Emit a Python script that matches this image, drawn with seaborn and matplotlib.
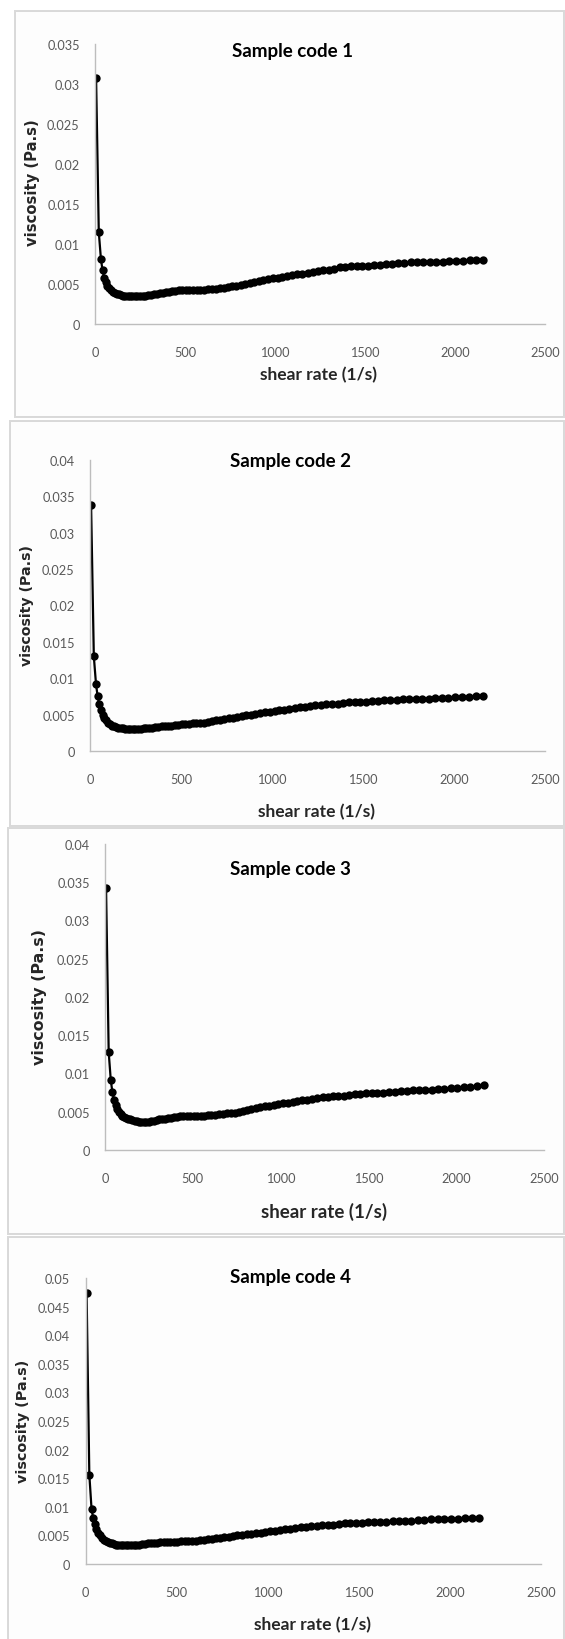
"""
Viscosity vs shear rate curves for four samples, stacked in one tall figure.
"""

import numpy as np
import matplotlib
matplotlib.use("Agg")
import matplotlib.pyplot as plt
from matplotlib.patches import Rectangle
from matplotlib.ticker import MultipleLocator, FuncFormatter
import seaborn as sns

# Shear rate (1/s), shared by all samples
shear_rate = [
    6, 21, 33, 42, 51, 60, 69, 79, 89, 99,
    110, 121, 132, 144, 156, 168, 181, 194, 207, 221,
    235, 249, 264, 279, 294, 310, 326, 342, 359, 376,
    393, 411, 429, 447, 466, 485, 504, 524, 544, 564,
    585, 606, 627, 649, 671, 693, 716, 739, 762, 786,
    810, 834, 859, 884, 909, 935, 961, 987, 1014, 1041,
    1068, 1096, 1124, 1152, 1181, 1210, 1239, 1269, 1299, 1329,
    1360, 1391, 1422, 1454, 1486, 1518, 1551, 1584, 1617, 1651,
    1685, 1719, 1754, 1789, 1824, 1860, 1896, 1932, 1969, 2006,
    2043, 2081, 2119, 2158,
]

# Viscosity (Pa.s) per sample
visc_1 = [
    0.0308, 0.0115, 0.0081, 0.0067, 0.0058, 0.0052, 0.0048, 0.0045, 0.0042, 0.0040,
    0.0039, 0.0038, 0.0037, 0.0036, 0.00355, 0.0035, 0.0035, 0.0035, 0.0035, 0.0035,
    0.0035, 0.0035, 0.0035, 0.0035, 0.0036, 0.00365, 0.0037, 0.0038, 0.0039, 0.0039,
    0.0040, 0.0040, 0.0041, 0.0041, 0.0042, 0.0042, 0.0042, 0.0042, 0.0043, 0.0043,
    0.0043, 0.0043, 0.0044, 0.0044, 0.0044, 0.0045, 0.0045, 0.0046, 0.0047, 0.0048,
    0.0049, 0.0050, 0.0051, 0.0053, 0.0054, 0.0055, 0.0056, 0.0057, 0.0058, 0.0059,
    0.0060, 0.0061, 0.0062, 0.0063, 0.0064, 0.0065, 0.0066, 0.0067, 0.0068, 0.0069,
    0.0071, 0.0071, 0.0072, 0.0072, 0.0073, 0.0073, 0.0074, 0.0074, 0.0075, 0.0075,
    0.0076, 0.0076, 0.0077, 0.0077, 0.0077, 0.0078, 0.0078, 0.0078, 0.0079, 0.0079,
    0.0079, 0.0080, 0.0080, 0.0080,
]
visc_2 = [
    0.0338, 0.0130, 0.0092, 0.0075, 0.0064, 0.0056, 0.0050, 0.0045, 0.0042, 0.0039,
    0.0037, 0.0035, 0.0034, 0.0033, 0.0032, 0.0031, 0.0031, 0.0030, 0.0030, 0.0030,
    0.0030, 0.0030, 0.0030, 0.0030, 0.0031, 0.0031, 0.0032, 0.0032, 0.0033, 0.0033,
    0.0034, 0.0034, 0.0035, 0.0035, 0.0036, 0.0036, 0.0037, 0.0037, 0.0037, 0.0038,
    0.0038, 0.0039, 0.0039, 0.0040, 0.0041, 0.0042, 0.0043, 0.0044, 0.0045, 0.0046,
    0.0047, 0.0048, 0.0049, 0.0050, 0.0051, 0.0052, 0.0053, 0.0054, 0.0055, 0.0056,
    0.0057, 0.0058, 0.0059, 0.0060, 0.0061, 0.0062, 0.0063, 0.0063, 0.0064, 0.0065,
    0.0065, 0.0066, 0.0067, 0.0067, 0.0068, 0.0068, 0.0069, 0.0069, 0.0070, 0.0070,
    0.0070, 0.0071, 0.0071, 0.0072, 0.0072, 0.0072, 0.0073, 0.0073, 0.0073, 0.0074,
    0.0074, 0.0074, 0.0075, 0.0075,
]
visc_3 = [
    0.0343, 0.0128, 0.0091, 0.0076, 0.0066, 0.0059, 0.0054, 0.0050, 0.0047, 0.0045,
    0.0043, 0.0042, 0.0041, 0.0040, 0.0039, 0.0038, 0.0038, 0.0037, 0.0037, 0.0037,
    0.0037, 0.0037, 0.0038, 0.0038, 0.0039, 0.0040, 0.0040, 0.0041, 0.0042, 0.0042,
    0.0043, 0.0043, 0.0044, 0.0044, 0.0044, 0.0045, 0.0045, 0.0045, 0.0045, 0.0045,
    0.0046, 0.0046, 0.0046, 0.0047, 0.0047, 0.0048, 0.0048, 0.0049, 0.0050, 0.0051,
    0.0052, 0.0053, 0.0055, 0.0056, 0.0057, 0.0058, 0.0059, 0.0060, 0.0061, 0.0062,
    0.0063, 0.0064, 0.0065, 0.0066, 0.0067, 0.0068, 0.0069, 0.0069, 0.0070, 0.0071,
    0.0071, 0.0072, 0.0073, 0.0073, 0.0074, 0.0074, 0.0075, 0.0075, 0.0076, 0.0076,
    0.0077, 0.0077, 0.0078, 0.0078, 0.0079, 0.0079, 0.0080, 0.0080, 0.0081, 0.0081,
    0.0082, 0.0083, 0.0084, 0.0085,
]
visc_4 = [
    0.0474, 0.0156, 0.0097, 0.0080, 0.0070, 0.0062, 0.0055, 0.0050, 0.0046, 0.0042,
    0.0040, 0.0038, 0.0037, 0.0036, 0.0035, 0.0034, 0.0034, 0.0033, 0.0033, 0.0033,
    0.0033, 0.0033, 0.0033, 0.0034, 0.0034, 0.0035, 0.0035, 0.0036, 0.0036, 0.0037,
    0.0037, 0.0038, 0.0038, 0.0038, 0.0039, 0.0039, 0.0039, 0.0040, 0.0040, 0.0040,
    0.0041, 0.0041, 0.0042, 0.0042, 0.0043, 0.0044, 0.0045, 0.0046, 0.0047, 0.0048,
    0.0049, 0.0050, 0.0051, 0.0052, 0.0053, 0.0054, 0.0055, 0.0056, 0.0057, 0.0058,
    0.0060, 0.0061, 0.0062, 0.0063, 0.0064, 0.0065, 0.0066, 0.0067, 0.0068, 0.0069,
    0.0069, 0.0070, 0.0071, 0.0071, 0.0072, 0.0072, 0.0073, 0.0073, 0.0074, 0.0074,
    0.0075, 0.0075, 0.0076, 0.0076, 0.0077, 0.0077, 0.0078, 0.0078, 0.0079, 0.0079,
    0.0079, 0.0080, 0.0080, 0.0080,
]

titles = ["Sample code 1", "Sample code 2", "Sample code 3", "Sample code 4"]
viscosities = [visc_1, visc_2, visc_3, visc_4]
y_max = [0.035, 0.04, 0.04, 0.05]

# Layout in pixels (figure is 565 x 1640):
# axes x0, x_at_2500, y_at_0, y_at_top
axes_px = [
    (95, 545, 325, 45),
    (90, 545, 752, 461),
    (105, 544, 1151, 845),
    (85.5, 541, 1565, 1279),
]
# panel frames: left, top, bottom
frames_px = [(15, 12, 418), (10, 422, 827), (8, 829, 1235), (8, 1238, 1660)]
title_px = [(292, 52), (290, 462), (290, 870), (290, 1278)]
xlabel_px = [(319, 375), (317, 812), (324, 1212), (313, 1625)]
ylabel_px = [(33, 183), (27, 606), (40, 997), (23, 1421)]
ylabel_size = [10.6, 10.2, 11.4, 10.4]
xlabel_size = [12.5, 12.5, 13.5, 12.5]

W, H = 565, 1640

sns.set_style("white")
plt.rcParams["font.family"] = ["Lato", "DejaVu Sans"]

fig = plt.figure(figsize=(W / 100, H / 100), dpi=100)
fig.patch.set_facecolor("white")

for (fl, ft, fb) in frames_px:
    fig.patches.append(Rectangle((fl / W, 1 - fb / H), (W - 1 - fl) / W, (fb - ft) / H,
                                 transform=fig.transFigure, facecolor="#fdfdfd",
                                 edgecolor="#d9d9d9", linewidth=1.4, zorder=-5))

grey = "#595959"
spine_c = "#bdbdbd"

for i in range(4):
    x0, x1, y0, yt = axes_px[i]
    ax = fig.add_axes([x0 / W, 1 - y0 / H, (x1 - x0) / W, (y0 - yt) / H])
    ax.set_facecolor("none")
    ax.set_zorder(2)

    sns.lineplot(x=shear_rate, y=viscosities[i], ax=ax, color="black",
                 marker="o", markersize=6.0, markeredgewidth=0,
                 linewidth=1.6, errorbar=None, sort=False)

    ax.set_xlim(0, 2500)
    ax.set_ylim(0, y_max[i])
    ax.xaxis.set_major_locator(MultipleLocator(500))
    ax.yaxis.set_major_locator(MultipleLocator(0.005))
    ax.yaxis.set_major_formatter(FuncFormatter(lambda v, p: f"{round(v, 4):g}"))

    for s in ["top", "right"]:
        ax.spines[s].set_visible(False)
    for s in ["left", "bottom"]:
        ax.spines[s].set_color(spine_c)
        ax.spines[s].set_linewidth(1.0)
    ax.tick_params(axis="both", direction="out", length=4, width=1.0,
                   color=spine_c, labelcolor=grey, labelsize=9.2, pad=7)
    ax.tick_params(axis="x", pad=12)

    tx, ty = title_px[i]
    fig.text(tx / W, 1 - ty / H, titles[i], ha="center", va="center",
             fontsize=13.5, fontweight="bold", color="black", zorder=3)

    ax.set_xlabel("shear rate (1/s)", fontsize=xlabel_size[i], fontweight="bold")
    lx, ly = xlabel_px[i]
    ax.xaxis.set_label_coords((lx - x0) / (x1 - x0), (y0 - ly) / (y0 - yt))
    ax.xaxis.label.set_va("center")

    ax.set_ylabel("viscosity (Pa.s)", fontsize=ylabel_size[i], fontweight="bold",
                  family="DejaVu Sans")
    vx, vy = ylabel_px[i]
    ax.yaxis.set_label_coords((vx - x0) / (x1 - x0), (y0 - vy) / (y0 - yt))
    ax.yaxis.label.set_va("center")

fig.savefig("out.png", dpi=100)
plt.close(fig)
